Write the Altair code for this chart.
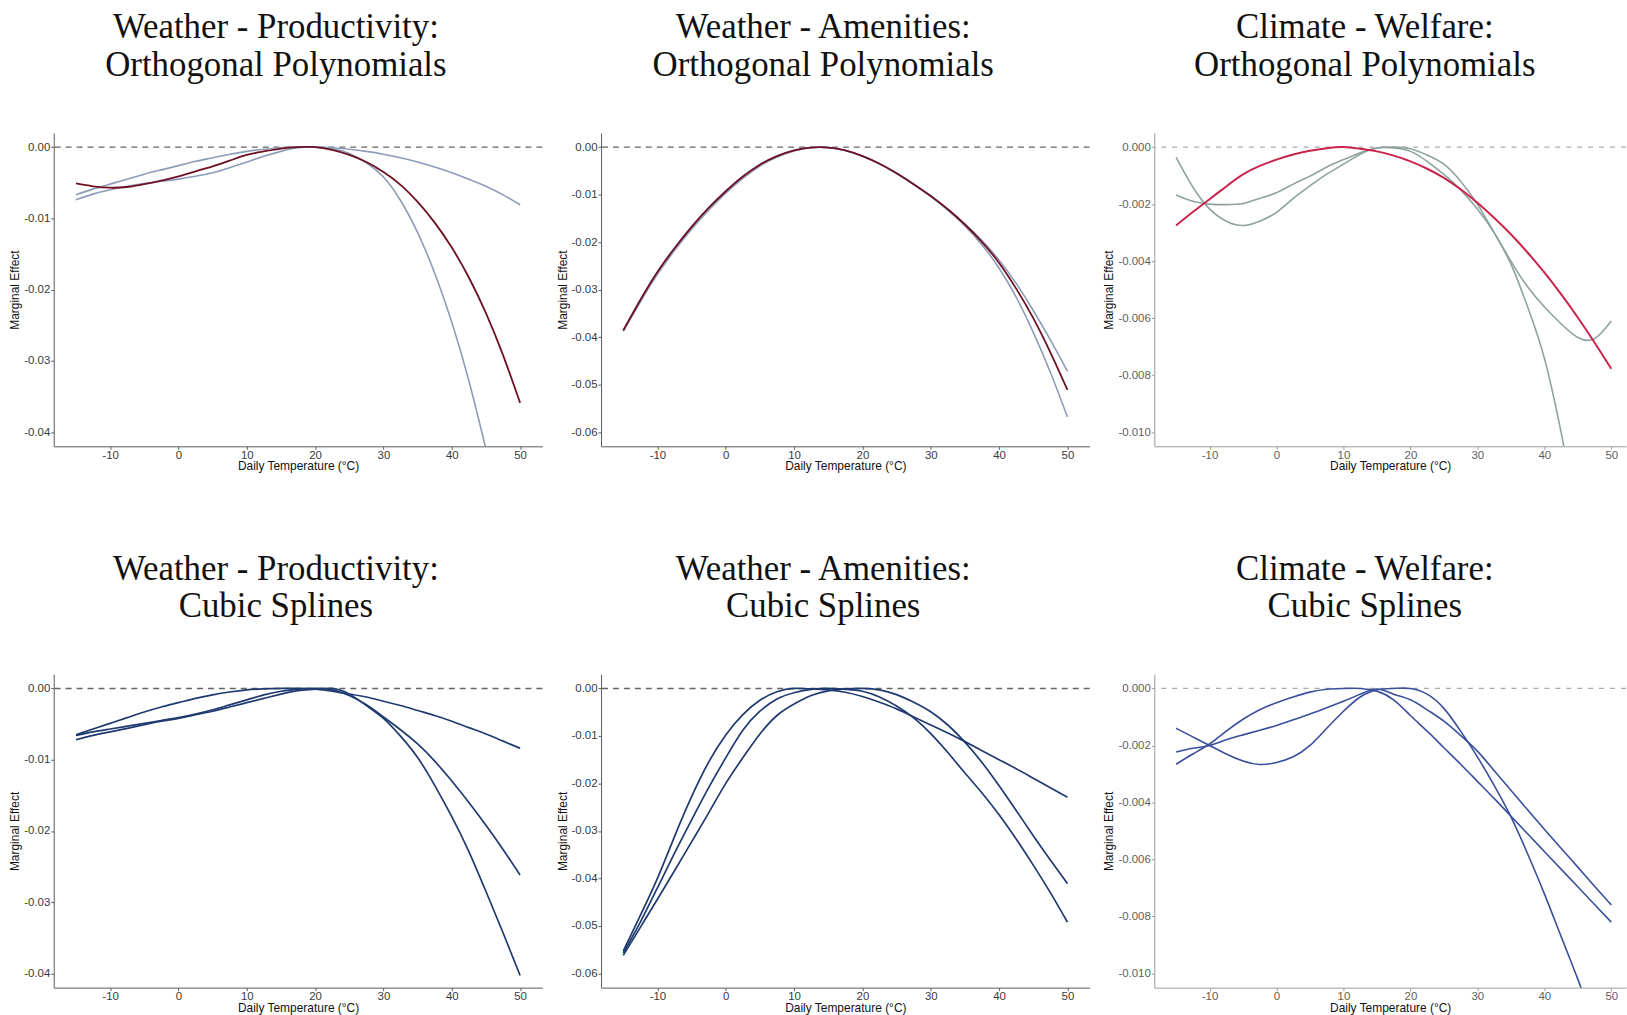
import altair as alt
import pandas as pd

# ---------------- data ----------------
X = [-15, -12.5, -10, -7.5, -5, -2.5, 0, 2.5, 5, 7.5, 10, 12.5, 15, 17.5, 20,
     22.5, 25, 27.5, 30, 32.5, 35, 37.5, 40, 42.5, 45, 47.5, 50]

TITLES = [
    ["Weather - Productivity:", "Orthogonal Polynomials"],
    ["Weather - Amenities:", "Orthogonal Polynomials"],
    ["Climate - Welfare:", "Orthogonal Polynomials"],
    ["Weather - Productivity:", "Cubic Splines"],
    ["Weather - Amenities:", "Cubic Splines"],
    ["Climate - Welfare:", "Cubic Splines"],
]

# Panel 1: Weather - Productivity, orthogonal polynomials
P1_RED = [-0.0051, -0.0055, -0.0057, -0.0056, -0.0052, -0.0047, -0.0041, -0.0034, -0.0027, -0.0019,
          -0.0011, -0.0006, -0.0002, 0.0, 0.0, -0.0004, -0.0011, -0.0021, -0.0035, -0.0053,
          -0.0077, -0.0106, -0.0141, -0.0183, -0.0233, -0.0292, -0.0359]
P1_GRAY_A = [-0.0067, -0.0059, -0.0052, -0.0045, -0.0038, -0.0032, -0.0026, -0.0020, -0.0015, -0.0010,
             -0.0006, -0.0003, -0.0001, 0.0, 0.0, -0.0001, -0.0003, -0.0006, -0.0010, -0.0015,
             -0.0021, -0.0028, -0.0036, -0.0045, -0.0055, -0.0067, -0.0081]
P1_GRAY_B = [-0.0074, -0.0066, -0.0060, -0.0055, -0.0051, -0.0048, -0.0045, -0.0041, -0.0036, -0.0029,
             -0.0021, -0.0013, -0.0006, -0.0001, 0.0, -0.0002, -0.0009, -0.0022, -0.0042, -0.0075,
             -0.0120, -0.0177, -0.0246, -0.0328, -0.0424, None, None]

# Panel 2: Weather - Amenities, orthogonal polynomials
P2_RED = [-0.0386, -0.0322, -0.0263, -0.0213, -0.0168, -0.0128, -0.0093, -0.0062, -0.0037, -0.0019,
          -0.0007, -0.0001, -0.0001, -0.0007, -0.0019, -0.0035, -0.0055, -0.0078, -0.0103, -0.0131,
          -0.0163, -0.0200, -0.0244, -0.0298, -0.0360, -0.0432, -0.0511]
P2_GRAY_A = [-0.0386, -0.0322, -0.0263, -0.0213, -0.0168, -0.0128, -0.0093, -0.0062, -0.0037, -0.0019,
             -0.0007, -0.0001, -0.0001, -0.0007, -0.0019, -0.0035, -0.0055, -0.0078, -0.0103, -0.0131,
             -0.0162, -0.0197, -0.0238, -0.0287, -0.0344, -0.0406, -0.0472]
P2_GRAY_B = [-0.0388, -0.0326, -0.0268, -0.0218, -0.0173, -0.0133, -0.0097, -0.0066, -0.0040, -0.0021,
             -0.0008, -0.0001, -0.0001, -0.0007, -0.0019, -0.0035, -0.0056, -0.0079, -0.0104, -0.0133,
             -0.0166, -0.0206, -0.0255, -0.0316, -0.0390, -0.0474, -0.0568]

# Panel 3: Climate - Welfare, orthogonal polynomials
P3_RED = [-0.00275, -0.00228, -0.00183, -0.00138, -0.00096, -0.00066, -0.00044, -0.00026, -0.00013, -0.00004,
          0.0, -0.00006, -0.00015, -0.0003, -0.0005, -0.00076, -0.00108, -0.00148, -0.00195, -0.00248,
          -0.00306, -0.0037, -0.0044, -0.00516, -0.00598, -0.00686, -0.00778]
P3_GRAY_A = [-0.00036, -0.0014, -0.00217, -0.0026, -0.00275, -0.0026, -0.00229, -0.0018, -0.00136, -0.00095,
             -0.0006, -0.00025, -0.00003, 0.0, -0.00006, -0.00028, -0.0006, -0.0012, -0.0020, -0.0030,
             -0.0041, -0.0056, -0.0074, -0.0100, -0.0130, None, None]
P3_GRAY_B = [-0.00168, -0.0019, -0.0020, -0.00202, -0.00198, -0.0018, -0.0016, -0.0013, -0.00102, -0.0007,
             -0.00044, -0.0002, -0.00003, -0.00003, -0.00015, -0.0005, -0.00096, -0.0015, -0.00217, -0.0030,
             -0.0040, -0.0049, -0.0056, -0.0062, -0.00668, -0.00672, -0.0061]

# Panel 4: Weather - Productivity, cubic splines
P4_A = [-0.0065, -0.0057, -0.0049, -0.0041, -0.0033, -0.0026, -0.0020, -0.0014, -0.0009, -0.0005,
        -0.0002, -0.00005, 0.0, 0.0, -0.0001, -0.0004, -0.0008, -0.0012, -0.0018, -0.0024,
        -0.0031, -0.0038, -0.0046, -0.0055, -0.0064, -0.0074, -0.0084]
P4_B = [-0.0066, -0.0061, -0.0057, -0.0053, -0.0049, -0.0045, -0.0041, -0.0036, -0.0030, -0.0023,
        -0.0016, -0.0009, -0.0004, -0.0001, 0.0, -0.0002, -0.0010, -0.0023, -0.0040, -0.0058,
        -0.0078, -0.0102, -0.0130, -0.0160, -0.0192, -0.0226, -0.0262]
P4_C = [-0.0072, -0.0066, -0.0061, -0.0056, -0.0051, -0.0046, -0.0042, -0.0037, -0.0032, -0.0026,
        -0.0020, -0.0014, -0.0008, -0.0003, -0.0001, 0.0, -0.0008, -0.0024, -0.0042, -0.0067,
        -0.0097, -0.0136, -0.0180, -0.0229, -0.0285, -0.0343, -0.0403]

# Panel 5: Weather - Amenities, cubic splines
P5_A = [-0.0553, -0.0478, -0.0400, -0.0312, -0.0228, -0.0155, -0.0098, -0.0055, -0.0025, -0.0007,
        0.0, -0.0001, -0.0003, -0.0008, -0.0017, -0.0029, -0.0043, -0.0060, -0.0077, -0.0094,
        -0.0112, -0.0131, -0.0150, -0.0169, -0.0189, -0.0209, -0.0229]
P5_B = [-0.0557, -0.0492, -0.0420, -0.0347, -0.0277, -0.0209, -0.0146, -0.0088, -0.0048, -0.0022,
        -0.0009, -0.0002, 0.0, -0.0002, -0.0006, -0.0018, -0.0037, -0.0062, -0.0095, -0.0135,
        -0.0178, -0.0220, -0.0266, -0.0317, -0.0372, -0.0430, -0.0492]
P5_C = [-0.0562, -0.0503, -0.0444, -0.0384, -0.0323, -0.0262, -0.0200, -0.0146, -0.0096, -0.0057,
        -0.0033, -0.0015, -0.0005, -0.0001, 0.0, -0.0003, -0.0013, -0.0029, -0.0049, -0.0077,
        -0.0113, -0.0156, -0.0205, -0.0257, -0.0310, -0.0361, -0.0411]

# Panel 6: Climate - Welfare, cubic splines
P6_A = [-0.0014, -0.0017, -0.0020, -0.0023, -0.00255, -0.00267, -0.0026, -0.0024, -0.0020, -0.0014,
        -0.0008, -0.0003, -0.00005, 0.0, 0.0, -0.0002, -0.0007, -0.0015, -0.0024, -0.0034,
        -0.0045, -0.0058, -0.0072, -0.0087, -0.0102, -0.0118, None]
P6_B = [-0.00266, -0.0023, -0.00195, -0.0015, -0.00108, -0.00075, -0.0005, -0.0003, -0.00013, -0.00003,
        0.0, 0.0, -0.0001, -0.0004, -0.00095, -0.0015, -0.00208, -0.00266, -0.00326, -0.00386,
        -0.00448, -0.0051, -0.00572, -0.00634, -0.00696, -0.00758, -0.0082]
P6_C = [-0.00223, -0.0021, -0.0020, -0.0018, -0.00163, -0.00147, -0.0013, -0.0011, -0.0009, -0.00068,
        -0.00045, -0.0002, -0.00002, -0.0002, -0.0004, -0.00075, -0.00115, -0.00165, -0.0022, -0.00288,
        -0.00357, -0.00426, -0.00494, -0.00561, -0.00627, -0.00694, -0.0076]

X_TICKS = [-10, 0, 10, 20, 30, 40, 50]
Y_TICKS_2 = [0.0, -0.01, -0.02, -0.03, -0.04]
Y_TICKS_A = [0.0, -0.01, -0.02, -0.03, -0.04, -0.05, -0.06]
Y_TICKS_3 = [0.0, -0.002, -0.004, -0.006, -0.008, -0.010]

# ---------------- styling ----------------
RED_DARK = "#6e1023"
GRAY_BLUE = "#8d9cb8"
CRIMSON = "#c9244c"
TEAL_GRAY = "#8ea39f"
NAVY = "#1f3a70"
BLUE6 = "#3a4f9c"

W = 491
W3 = 474
H = 315


def frame(values):
    rows = [{"x": x, "y": y} for x, y in zip(X, values) if y is not None]
    return pd.DataFrame(rows)


def panel(title, series, ydom, yticks, yfmt, width, xdom, faded=False):
    axis_col = "#9a9a9a" if faded else "#5a5a5a"
    lab_col = "#5e5e5e" if faded else "#3a3a3a"
    xscale = alt.Scale(domain=xdom, nice=False, zero=False)
    yscale = alt.Scale(domain=ydom, nice=False, zero=False)
    xaxis = alt.Axis(title="Daily Temperature (°C)", values=X_TICKS, format="d",
                     grid=False, domainColor=axis_col, tickColor=axis_col, tickSize=3,
                     labelPadding=0, labelFontSize=11.5, labelColor=lab_col,
                     labelFont="Liberation Sans", titleFont="Liberation Sans",
                     titleFontSize=12, titleFontWeight="normal", titleColor="#111111",
                     titlePadding=0, labelFlush=False, labelExpr="replace(datum.label, '\u2212', '-')")
    yaxis = alt.Axis(title="Marginal Effect", values=yticks, format=yfmt,
                     grid=False, domainColor=axis_col, tickColor=axis_col, tickSize=3,
                     labelPadding=1, labelFontSize=11.5, labelColor=lab_col,
                     labelFont="Liberation Sans", titleFont="Liberation Sans",
                     titleFontSize=12, titleFontWeight="normal", titleColor="#111111",
                     titlePadding=2, labelExpr="replace(datum.label, '\u2212', '-')")
    rule = alt.Chart(pd.DataFrame({"y": [0.0]})).mark_rule(
        color="#aaaaaa" if faded else "#666666", strokeDash=[6, 5] if not faded else [5, 6],
        strokeWidth=1.4 if not faded else 1.2
    ).encode(y=alt.Y("y:Q", scale=yscale, axis=yaxis))
    layers = [rule]
    for vals, col, sw in series:
        layers.append(
            alt.Chart(frame(vals)).mark_line(color=col, strokeWidth=sw, clip=True, interpolate="natural")
            .encode(x=alt.X("x:Q", scale=xscale, axis=xaxis), y=alt.Y("y:Q", scale=yscale, axis=yaxis))
        )
    return alt.layer(*layers).properties(
        width=width, height=H,
        title=alt.TitleParams(text=title, fontSize=35, font="Liberation Serif", fontWeight="normal",
                              color="#111111", lineHeight=38, anchor="middle", offset=50, frame="bounds"),
    )


XD = [-18.25, 53.25]
XD3 = [-18.25, 52.2]

p1 = panel(TITLES[0], [(P1_GRAY_A, GRAY_BLUE, 1.6), (P1_GRAY_B, GRAY_BLUE, 1.6), (P1_RED, RED_DARK, 1.8)],
           [-0.042, 0.002], Y_TICKS_2, ".2f", W, XD)
p2 = panel(TITLES[1], [(P2_GRAY_A, GRAY_BLUE, 1.6), (P2_GRAY_B, GRAY_BLUE, 1.6), (P2_RED, RED_DARK, 1.8)],
           [-0.063, 0.003], Y_TICKS_A, ".2f", W, XD)
p3 = panel(TITLES[2], [(P3_GRAY_A, TEAL_GRAY, 1.6), (P3_GRAY_B, TEAL_GRAY, 1.6), (P3_RED, CRIMSON, 2.0)],
           [-0.0105, 0.0005], Y_TICKS_3, ".3f", W3, XD3, faded=True)
p4 = panel(TITLES[3], [(P4_A, NAVY, 1.7), (P4_B, NAVY, 1.7), (P4_C, NAVY, 1.7)],
           [-0.042, 0.002], Y_TICKS_2, ".2f", W, XD)
p5 = panel(TITLES[4], [(P5_A, NAVY, 1.7), (P5_B, NAVY, 1.7), (P5_C, NAVY, 1.7)],
           [-0.063, 0.003], Y_TICKS_A, ".2f", W, XD)
p6 = panel(TITLES[5], [(P6_A, BLUE6, 1.6), (P6_B, BLUE6, 1.6), (P6_C, BLUE6, 1.6)],
           [-0.0105, 0.0005], Y_TICKS_3, ".3f", W3, XD3, faded=True)

row1 = alt.hconcat(p1, p2, p3, spacing=12)
row2 = alt.hconcat(p4, p5, p6, spacing=12)
chart = alt.vconcat(row1, row2, spacing=80).properties(
    padding={"left": 8, "top": 8, "right": 0, "bottom": 0},
    background="white",
).configure_view(stroke=None)

chart.save("out.html", embed_options={"renderer": "svg", "actions": False})
